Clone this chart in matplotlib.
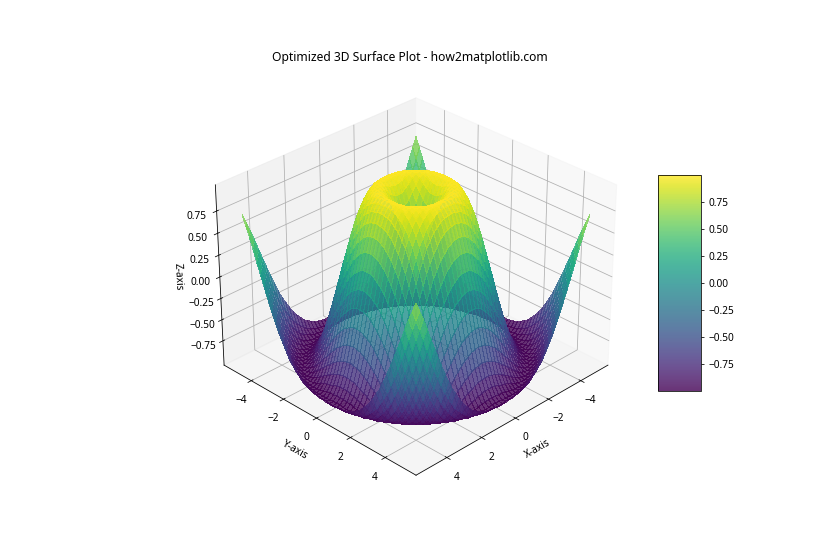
import numpy as np
import matplotlib
matplotlib.use("Agg")
import matplotlib.pyplot as plt

plt.rcParams['font.family'] = ['Noto Sans', 'DejaVu Sans']
plt.rcParams['font.size'] = 10.4

# distance from the centre along one axis
offsets = [0.0, 0.2, 0.4, 0.6, 0.8, 1.0, 1.2, 1.4, 1.6, 1.8, 2.0, 2.2, 2.4,
           2.6, 2.8, 3.0, 3.2, 3.4, 3.6, 3.8, 4.0, 4.2, 4.4, 4.6, 4.8, 5.0]

# surface height, one octant only (row i has columns 0..i), the rest is mirrored
heights = [
    [0.00],
    [0.20, 0.28],
    [0.39, 0.43, 0.54],
    [0.56, 0.59, 0.66, 0.75],
    [0.72, 0.73, 0.78, 0.84, 0.90],
    [0.84, 0.85, 0.88, 0.92, 0.96, 0.99],
    [0.93, 0.94, 0.95, 0.97, 0.99, 1.00, 0.99],
    [0.99, 0.99, 0.99, 1.00, 1.00, 0.99, 0.96, 0.92],
    [1.00, 1.00, 1.00, 0.99, 0.98, 0.95, 0.91, 0.85, 0.77],
    [0.97, 0.97, 0.96, 0.95, 0.92, 0.88, 0.83, 0.76, 0.67, 0.56],
    [0.91, 0.90, 0.89, 0.87, 0.83, 0.79, 0.72, 0.65, 0.55, 0.44, 0.31],
    [0.81, 0.80, 0.79, 0.76, 0.72, 0.66, 0.59, 0.51, 0.41, 0.29, 0.17, 0.03],
    [0.68, 0.67, 0.65, 0.62, 0.57, 0.52, 0.44, 0.36, 0.25, 0.14, 0.02, -0.11, -0.25],
    [0.52, 0.51, 0.49, 0.46, 0.41, 0.35, 0.27, 0.19, 0.09, -0.02, -0.14, -0.26, -0.39, -0.51],
    [0.33, 0.33, 0.31, 0.27, 0.23, 0.17, 0.10, 0.01, -0.08, -0.19, -0.30, -0.41, -0.52, -0.63, -0.73],
    [0.14, 0.13, 0.11, 0.08, 0.04, -0.02, -0.09, -0.17, -0.26, -0.35, -0.45, -0.55, -0.65, -0.74, -0.82, -0.89],
    [-0.06, -0.06, -0.08, -0.11, -0.16, -0.21, -0.27, -0.34, -0.42, -0.51, -0.59, -0.68, -0.76, -0.83, -0.90, -0.95, -0.98],
    [-0.26, -0.26, -0.28, -0.31, -0.34, -0.39, -0.45, -0.51, -0.58, -0.65, -0.72, -0.79, -0.85, -0.91, -0.95, -0.98, -1.00, -0.99],
    [-0.44, -0.45, -0.46, -0.49, -0.52, -0.56, -0.61, -0.66, -0.72, -0.77, -0.83, -0.88, -0.93, -0.96, -0.99, -1.00, -0.99, -0.97, -0.93],
    [-0.61, -0.62, -0.63, -0.65, -0.68, -0.71, -0.75, -0.79, -0.83, -0.87, -0.91, -0.95, -0.98, -0.99, -1.00, -0.99, -0.97, -0.93, -0.87, -0.79],
    [-0.76, -0.76, -0.77, -0.79, -0.81, -0.83, -0.86, -0.89, -0.92, -0.95, -0.97, -0.99, -1.00, -1.00, -0.98, -0.96, -0.92, -0.86, -0.78, -0.69, -0.59],
    [-0.87, -0.87, -0.88, -0.89, -0.91, -0.92, -0.94, -0.96, -0.98, -0.99, -1.00, -1.00, -0.99, -0.97, -0.94, -0.90, -0.84, -0.77, -0.68, -0.58, -0.46, -0.34],
    [-0.95, -0.95, -0.96, -0.96, -0.97, -0.98, -0.99, -1.00, -1.00, -1.00, -0.99, -0.98, -0.96, -0.92, -0.88, -0.82, -0.75, -0.66, -0.56, -0.45, -0.33, -0.20, -0.06],
    [-0.99, -0.99, -1.00, -1.00, -1.00, -1.00, -1.00, -0.99, -0.99, -0.97, -0.95, -0.93, -0.89, -0.84, -0.78, -0.71, -0.63, -0.53, -0.43, -0.31, -0.19, -0.05, 0.08, 0.22],
    [-1.00, -1.00, -0.99, -0.99, -0.99, -0.98, -0.97, -0.96, -0.94, -0.92, -0.88, -0.84, -0.79, -0.74, -0.66, -0.58, -0.49, -0.39, -0.28, -0.16, -0.03, 0.10, 0.23, 0.36, 0.48],
    [-0.96, -0.96, -0.95, -0.95, -0.94, -0.93, -0.91, -0.89, -0.86, -0.83, -0.78, -0.73, -0.67, -0.60, -0.52, -0.44, -0.34, -0.23, -0.12, 0.00, 0.12, 0.24, 0.37, 0.49, 0.60, 0.71],
]

z_ticks = [-0.75, -0.50, -0.25, 0.00, 0.25, 0.50, 0.75]


def main():
    n = len(offsets)
    axis = np.array([-v for v in offsets[:0:-1]] + offsets)
    Z = np.zeros((2 * n - 1, 2 * n - 1))
    for a in range(2 * n - 1):
        for b in range(2 * n - 1):
            i = abs(a - n + 1)
            j = abs(b - n + 1)
            Z[a, b] = heights[max(i, j)][min(i, j)]
    X, Y = np.meshgrid(axis, axis)

    fig = plt.figure(figsize=(12, 8), dpi=70)
    ax = fig.add_subplot(111, projection='3d')
    surf = ax.plot_surface(X, Y, Z, cmap='viridis', rstride=1, cstride=1,
                           linewidth=0, antialiased=False, alpha=0.8)
    ax.view_init(elev=30, azim=45)
    ax.set_zticks(z_ticks)
    ax.set_title('Optimized 3D Surface Plot - how2matplotlib.com')
    ax.set_xlabel('X-axis')
    ax.set_ylabel('Y-axis')
    ax.set_zlabel('Z-axis')
    fig.colorbar(surf, shrink=0.5, aspect=5)
    plt.savefig("out.png", dpi=70)


if __name__ == "__main__":
    main()
